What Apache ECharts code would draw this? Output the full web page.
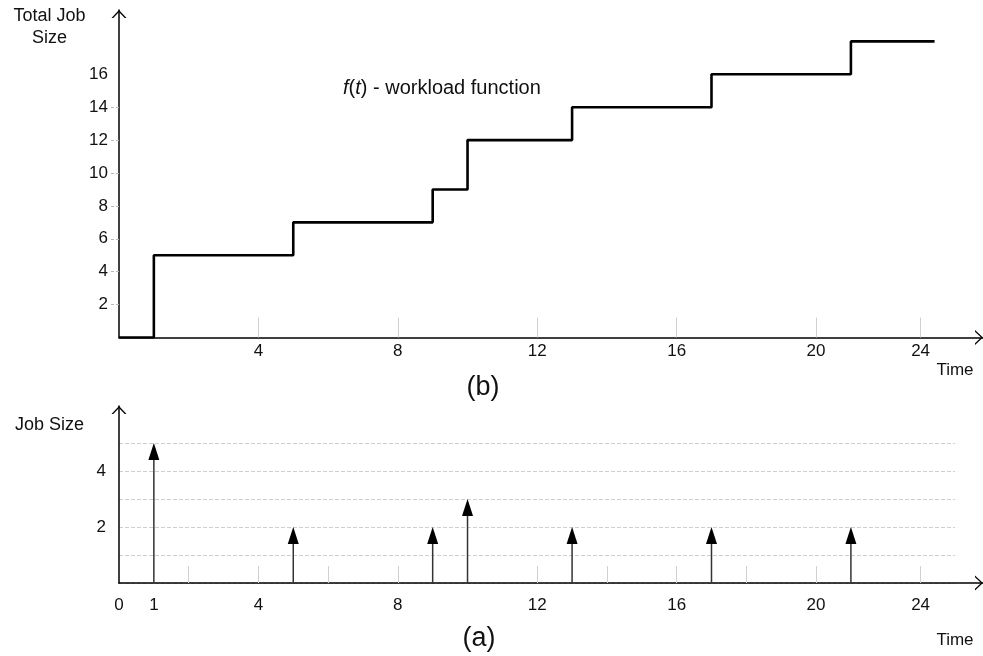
<!DOCTYPE html>
<html>
<head>
<meta charset="utf-8">
<script src="https://cdn.jsdelivr.net/npm/echarts@6/dist/echarts.min.js"></script>
<style>
  html, body { margin: 0; padding: 0; background: #fff; }
  #chart { width: 983px; height: 656px; }
</style>
</head>
<body>
<div id="chart"></div>
<script>
// ---- data ----
// (b) cumulative workload f(t): step points (time, total job size)
const totalTimes  = [0, 1, 5, 9, 10, 13, 17, 21, 23.4];
const totalValues = [0, 5, 7, 9, 12, 14, 16, 18, 18];

// (a) individual jobs: arrival time and size
const jobTimes = [1, 5, 9, 10, 13, 17, 21];
const jobSizes = [5, 2, 2, 3, 2, 2, 2];

// axis ticks / labels (the "24" label sits where the drawing put it)
const topXTickValues = [4, 8, 12, 16, 20, 23];
const topXTickLabels = ['4', '8', '12', '16', '20', '24'];
const topYLabelValues = [2, 4, 6, 8, 10, 12, 14, 16];
const topYTickValues = [2, 4, 6, 8, 10, 12, 14];

const botXLabelValues = [0, 1, 4, 8, 12, 16, 20, 23];
const botXLabels = ['0', '1', '4', '8', '12', '16', '20', '24'];
const botXTickValues = [2, 4, 6, 8, 10, 12, 14, 16, 18, 20, 23];
const botYLabelValues = [2, 4];

// ---- chart ----
const FONT = 'Liberation Sans, Arial, Helvetica, sans-serif';
const chevron = 'path://M0,8 L7.5,0 L15,8 L13.2,8 L7.5,1.9 L1.8,8 Z';

const stepData = totalTimes.map((t, i) => [t, totalValues[i]]);
const jobData = jobTimes.map((t, i) => [t, jobSizes[i]]);

function labelFor(values, labels) {
  return function (v) {
    for (let i = 0; i < values.length; i++) {
      if (Math.abs(values[i] - v) < 1e-6) return labels[i];
    }
    return '';
  };
}

const axisLineStyle = { color: '#000', width: 1.5 };
const labelStyle = { color: '#111', fontSize: 17, fontFamily: FONT, lineHeight: 17 };

const option = {
  animation: false,
  backgroundColor: '#fff',
  textStyle: { fontFamily: FONT },
  title: [
    {
      text: '{i|f}({i|t}) - workload function',
      left: 338, top: 73,
      textStyle: {
        fontSize: 20, fontWeight: 'normal', color: '#111', fontFamily: FONT, lineHeight: 20,
        rich: { i: { fontStyle: 'italic', fontSize: 20, fontFamily: FONT, color: '#111' } }
      }
    },
    {
      text: '(b)', left: 478, top: 369, textAlign: 'center',
      textStyle: { fontSize: 27, fontWeight: 'normal', color: '#111', fontFamily: FONT, lineHeight: 27 }
    },
    {
      text: '(a)', left: 474, top: 620, textAlign: 'center',
      textStyle: { fontSize: 27, fontWeight: 'normal', color: '#111', fontFamily: FONT, lineHeight: 27 }
    }
  ],
  grid: [
    { left: 119, right: 0, top: 10, bottom: 318.5 },   // (b)
    { left: 119, right: 0, top: 406, bottom: 73 },     // (a)
    { left: 119, right: 28, top: 443, bottom: 73 }     // (a) dashed guide lines
  ],
  xAxis: [
    {
      gridIndex: 0, type: 'value', min: 0, max: 24.79,
      axisLine: { show: true, onZero: true, lineStyle: axisLineStyle,
        symbol: ['none', chevron], symbolSize: [15, 8], symbolOffset: [0, -4] },
      axisTick: { show: true, inside: true, length: 20, customValues: topXTickValues,
        lineStyle: { color: '#d0d0d0', width: 1 } },
      axisLabel: { show: true, customValues: topXTickValues, margin: 5,
        formatter: labelFor(topXTickValues, topXTickLabels), ...labelStyle },
      splitLine: { show: false },
      name: 'Time', nameLocation: 'end', nameGap: -28,
      nameTextStyle: { fontSize: 17, fontFamily: FONT, color: '#111', align: 'center',
        verticalAlign: 'top', padding: [24, 0, 0, 0], lineHeight: 17 }
    },
    {
      gridIndex: 1, type: 'value', min: 0, max: 24.79,
      axisLine: { show: true, onZero: true, lineStyle: axisLineStyle,
        symbol: ['none', chevron], symbolSize: [15, 8], symbolOffset: [0, -4] },
      axisTick: { show: true, inside: true, length: 17, customValues: botXTickValues,
        lineStyle: { color: '#d0d0d0', width: 1 } },
      axisLabel: { show: true, customValues: botXLabelValues, margin: 14,
        formatter: labelFor(botXLabelValues, botXLabels), ...labelStyle },
      splitLine: { show: false },
      name: 'Time', nameLocation: 'end', nameGap: -28,
      nameTextStyle: { fontSize: 17, fontFamily: FONT, color: '#111', align: 'center',
        verticalAlign: 'top', padding: [49, 0, 0, 0], lineHeight: 17 }
    },
    { gridIndex: 2, type: 'value', min: 0, max: 1, show: false }
  ],
  yAxis: [
    {
      gridIndex: 0, type: 'value', min: 0, max: 19.91,
      axisLine: { show: true, onZero: false, lineStyle: axisLineStyle,
        symbol: ['none', chevron], symbolSize: [15, 8], symbolOffset: [0, -4] },
      axisTick: { show: true, inside: false, length: 9, customValues: topYTickValues,
        lineStyle: { color: '#b8b8b8', width: 1, type: [3, 2] } },
      axisLabel: { show: true, customValues: topYLabelValues, margin: 11, ...labelStyle },
      splitLine: { show: false },
      name: 'Total Job\nSize', nameLocation: 'end', nameGap: 5,
      nameTextStyle: { fontSize: 18, fontFamily: FONT, color: '#111', align: 'center',
        verticalAlign: 'top', lineHeight: 22, padding: [0, 139, 0, 0] }
    },
    {
      gridIndex: 0, type: 'value', min: 0, max: 19.91,
      axisLine: { show: false },
      axisTick: { show: true, inside: true, length: 8, customValues: topYTickValues,
        lineStyle: { color: '#b8b8b8', width: 1, type: [3, 2] } },
      axisLabel: { show: false },
      splitLine: { show: false }
    },
    {
      gridIndex: 1, type: 'value', min: 0, max: 6.32,
      axisLine: { show: true, onZero: false, lineStyle: axisLineStyle,
        symbol: ['none', chevron], symbolSize: [15, 8], symbolOffset: [0, -4] },
      axisTick: { show: false },
      axisLabel: { show: true, customValues: botYLabelValues, margin: 13, ...labelStyle },
      splitLine: { show: false },
      name: 'Job Size', nameLocation: 'end', nameGap: -10,
      nameTextStyle: { fontSize: 18, fontFamily: FONT, color: '#111', align: 'center',
        verticalAlign: 'top', lineHeight: 18, padding: [0, 139, 0, 0] }
    },
    {
      gridIndex: 2, type: 'value', min: 0, max: 5, interval: 1,
      axisLine: { show: false }, axisTick: { show: false }, axisLabel: { show: false },
      splitLine: { show: true, lineStyle: { color: '#cfcfcf', width: 1, type: [4, 2] } }
    }
  ],
  series: [
    {
      name: 'f(t)', type: 'line', xAxisIndex: 0, yAxisIndex: 0,
      step: 'end', data: stepData, symbol: 'none',
      lineStyle: { color: '#000', width: 2.6 }, z: 5
    },
    {
      name: 'jobs', type: 'custom', xAxisIndex: 1, yAxisIndex: 2,
      data: jobData, z: 5,
      renderItem: function (params, api) {
        const t = api.value(0), s = api.value(1);
        const base = api.coord([t, 0]);
        const tip = api.coord([t, s]);
        const headH = 17, headW = 11;
        return {
          type: 'group',
          children: [
            { type: 'line', shape: { x1: base[0], y1: base[1], x2: tip[0], y2: tip[1] + headH },
              style: { stroke: '#333', lineWidth: 1.5 } },
            { type: 'polygon', shape: { points: [[tip[0], tip[1]], [tip[0] - headW / 2, tip[1] + headH], [tip[0] + headW / 2, tip[1] + headH]] },
              style: { fill: '#000' } }
          ]
        };
      }
    }
  ]
};

const chart = echarts.init(document.getElementById('chart'), null, { renderer: 'canvas' });
chart.setOption(option);
</script>
</body>
</html>
